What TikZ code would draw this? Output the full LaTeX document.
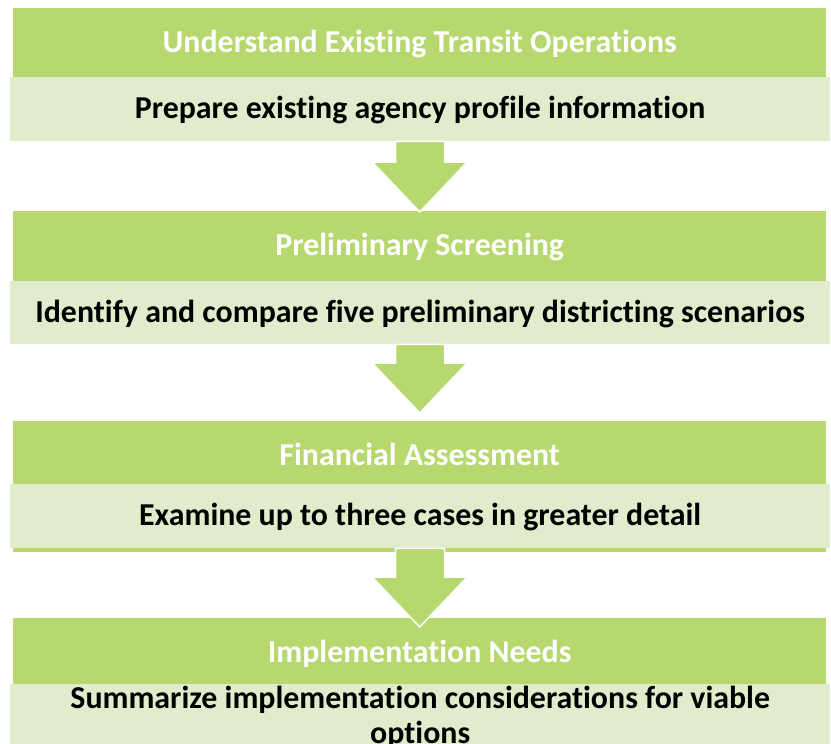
\documentclass[tikz,border=0pt]{standalone}
\usepackage{fontspec}
\setmainfont{Carlito}[Ligatures=NoCommon]
\usetikzlibrary{calc}
\definecolor{stagegreen}{RGB}{182,216,111}
\definecolor{taskgreen}{RGB}{224,236,203}
\tikzset{
  stagebox/.style={fill=stagegreen, draw=none, anchor=north west, inner sep=0pt,
    minimum width=813bp, text=white, text height=44bp, font=\bfseries\fontsize{32}{36}\selectfont},
  taskbox/.style={fill=taskgreen, draw=none, anchor=north west, inner sep=0pt,
    minimum width=820bp, text=black, text height=41bp, font=\bfseries\fontsize{32}{36}\selectfont},
  blockarrow/.style={fill=stagegreen, draw=white, line width=1.5bp, line join=miter}
}
% block arrow from the bottom of #1 to a tip #3 bp below the top of #2
\newcommand\stagearrow[3]{%
  \path (#1.south) ++(-24.5,0) coordinate (aL) ++(49,0) coordinate (aR);
  \path (#2.north) ++(0,#3) coordinate (aT) ++(-47.5,-50) coordinate (hL) ++(95,0) coordinate (hR);
  \draw[blockarrow] (aL) -- (aR) -- (aR |- hR) -- (hR) -- (aT) -- (hL) -- (aL |- hL) -- cycle;}
\begin{document}
\begin{tikzpicture}[x=1bp,y=-1bp]
\useasboundingbox (0,0) rectangle (831,744);
\clip (0,0) rectangle (831,744);
\fill[white] (0,0) rectangle (831,744);

% stage 1
\node[stagebox, text depth=25bp] (d1) at (13,8) {Understand Existing Transit Operations};
\node[taskbox, text depth=23bp] (l1) at (10,77) {Prepare existing agency profile information};

% stage 2
\node[stagebox, text depth=26bp] (d2) at (13,211) {Preliminary Screening};
\node[taskbox, text depth=22bp] (l2) at (10,281) {Identify and compare five preliminary districting scenarios};

% stage 3
\fill[stagegreen] (13,484) rectangle (826,552);
\node[stagebox, text depth=19bp] (d3) at (13,421) {Financial Assessment};
\node[taskbox, text depth=23bp] (l3) at (10,484) {Examine up to three cases in greater detail};

% stage 4
\node[stagebox, text depth=22bp] (d4) at (13,618) {Implementation Needs};
\node[taskbox, text height=60bp, text depth=20bp] (l4) at (10,684) {};
\node[anchor=north, inner sep=0pt, align=center, font=\bfseries\fontsize{32}{35}\selectfont] (t4) at ($(l4.north)+(0,2)$)
  {Summarize implementation considerations for viable\\options};

% arrows between stages
\stagearrow{l1}{d2}{1}
\stagearrow{l2}{d3}{-8}
\stagearrow{l3}{d4}{9}
\end{tikzpicture}
\end{document}
